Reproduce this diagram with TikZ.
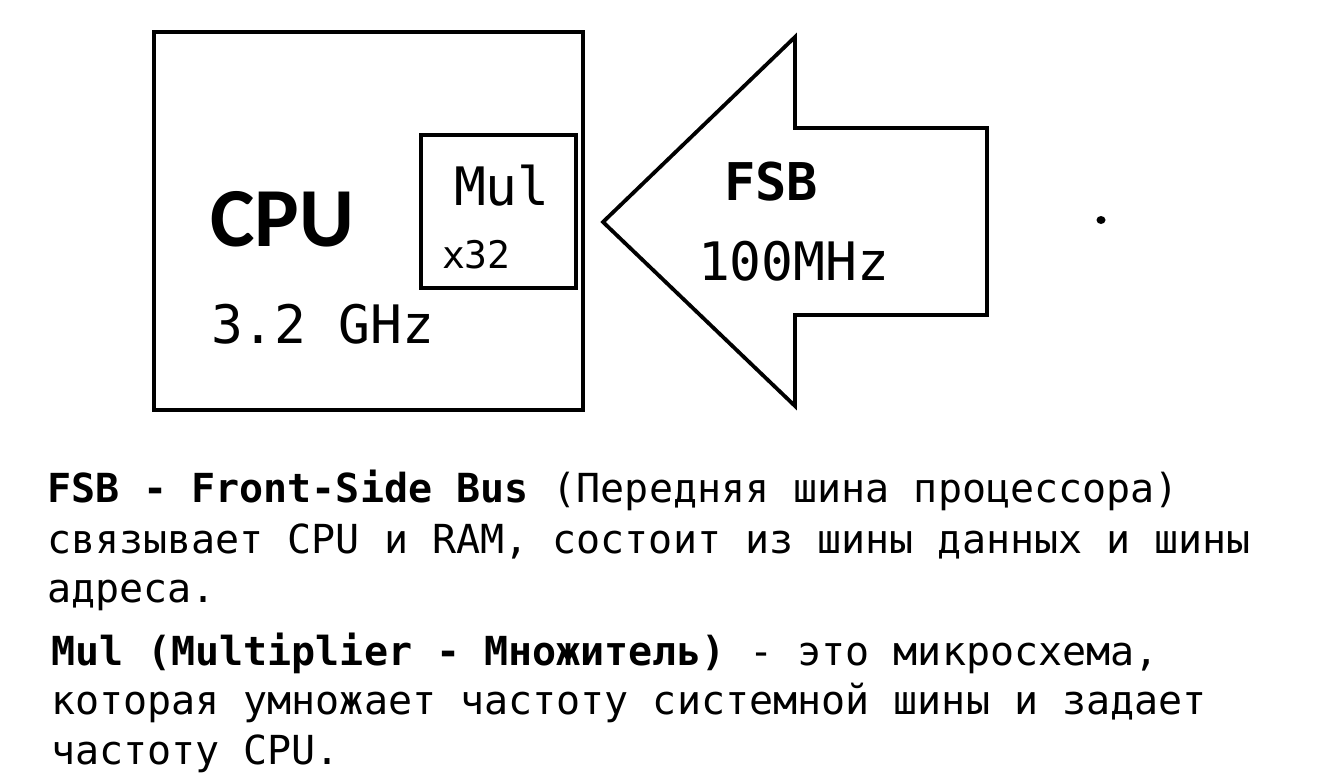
\documentclass[tikz,border=0pt]{standalone}
\usepackage{fontspec}
\setmainfont{DejaVu Sans Mono}
\newfontfamily\cpufont{Carlito}
\tikzset{
  box/.style={draw=black, line width=4.5pt, fill=none},
  arrowshape/.style={draw=black, line width=3.8pt, line join=miter},
  txt/.style={anchor=base west, inner sep=0pt, outer sep=0pt},
}
\newcommand{\fs}[1]{\fontsize{#1}{#1}\selectfont}
\begin{document}
\begin{tikzpicture}[x=1pt, y=-1pt]
\useasboundingbox (0,0) rectangle (1334,774);
\clip (0,0) rectangle (1334,774);
\fill[white] (0,0) rectangle (1334,774);
% CPU box
\draw[box] (154,32) rectangle (583,410);
% Mul box
\draw[box] (421,135) rectangle (576,288);
% FSB arrow
\draw[arrowshape] (603,222) -- (795,37) -- (795,128) -- (987,128) -- (987,315) -- (795,315) -- (795,406) -- cycle;
% dot
\fill (1101,220) ellipse (4.5 and 4);
% texts
\node[txt] (cpu) at (210,246) {\cpufont\bfseries\fs{84}CPU};
\node[txt] (ghz) at (211,343) {\fs{53}3.2 GHz};
\node[txt] (mul) at (454,205) {\fs{53}Mul};
\node[txt] (x32) at (442,268) {\fs{38}x32};
\node[txt] (fsb) at (724,200) {\bfseries\fs{52}FSB};
\node[txt] (mhz) at (698,280) {\fs{53}100MHz};
% description
\node[txt] (l1) at (47,502) {\fs{40}\textbf{FSB - Front-Side Bus} (Передняя шина процессора)};
\node[txt] (l2) at (47,553) {\fs{40}связывает CPU и RAM, состоит из шины данных и шины};
\node[txt] (l3) at (47,602) {\fs{40}адреса.};
\node[txt] (l4) at (51,665) {\fs{40}\textbf{Mul (Multiplier - Множитель)} - это микросхема,};
\node[txt] (l5) at (51,714) {\fs{40}которая умножает частоту системной шины и задает};
\node[txt] (l6) at (51,764) {\fs{40}частоту CPU.};
\end{tikzpicture}
\end{document}
